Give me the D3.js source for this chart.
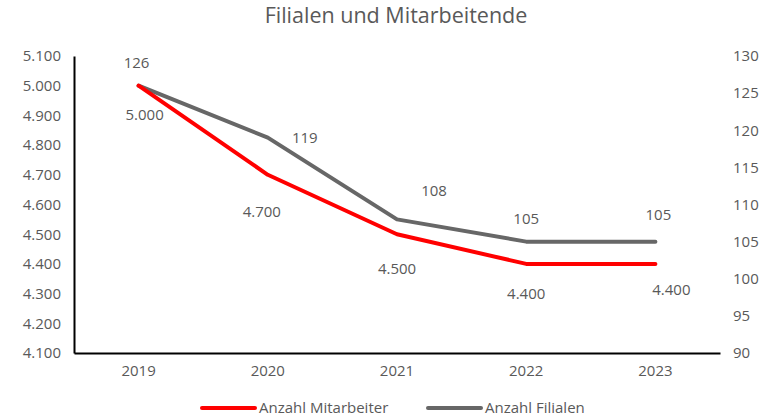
<!DOCTYPE html>
<html>
<head>
<meta charset="utf-8">
<script src="https://cdn.jsdelivr.net/npm/d3@7"></script>
<style>
  body { margin: 0; background: #fff; }
  svg text { font-family: "Open Sans", "DejaVu Sans", sans-serif; fill: #595959; }
</style>
</head>
<body>
<svg id="graphique" width="772" height="418"></svg>
<script>
var jahre = ["2019", "2020", "2021", "2022", "2023"];
var mitarbeiter = [5000, 4700, 4500, 4400, 4400];
var filialen = [126, 119, 108, 105, 105];
var ticksLinks = [4100, 4200, 4300, 4400, 4500, 4600, 4700, 4800, 4900, 5000, 5100];
var ticksRechts = [90, 95, 100, 105, 110, 115, 120, 125, 130];

// label offsets (px) so the numbers sit like in the original
var offFilialen = [[-2, -23], [37, 0], [37, -29], [0, -23], [3, -27]];
var offMitarbeiter = [[6, 29], [-6, 37], [0, 35], [0, 30], [16, 26]];

var ROT = "#ff0000";
var GRAU = "#676767";

var svg = d3.select("#graphique");
var MARGINS = { top: 56, right: 52, bottom: 65, left: 74 };
var WIDTH = 772, HEIGHT = 418;

var xScale = d3.scaleBand().domain(jahre).range([MARGINS.left, WIDTH - MARGINS.right]);
var yLinks = d3.scaleLinear().domain([4100, 5100]).range([HEIGHT - MARGINS.bottom, MARGINS.top]);
var yRechts = d3.scaleLinear().domain([90, 130]).range([HEIGHT - MARGINS.bottom, MARGINS.top]);
var fmt = d3.formatLocale({ decimal: ",", thousands: ".", grouping: [3], currency: ["", "€"] }).format(",");

// titel
svg.append("text")
  .attr("x", 396).attr("y", 23)
  .attr("text-anchor", "middle")
  .attr("font-size", 21.5)
  .text("Filialen und Mitarbeitende");

// achsen
var axLinks = svg.append("g")
  .attr("transform", "translate(" + MARGINS.left + ",0)")
  .call(d3.axisLeft(yLinks).tickValues(ticksLinks).tickFormat(fmt).tickSize(0).tickPadding(13));
axLinks.select(".domain").attr("stroke", "#000").attr("stroke-width", 2);

var axRechts = svg.append("g")
  .attr("transform", "translate(" + (WIDTH - MARGINS.right) + ",0)")
  .call(d3.axisRight(yRechts).tickValues(ticksRechts).tickSize(0).tickPadding(13));
axRechts.select(".domain").remove();

var axUnten = svg.append("g")
  .attr("transform", "translate(0," + (HEIGHT - MARGINS.bottom) + ")")
  .call(d3.axisBottom(xScale).tickSize(0).tickPadding(12).tickSizeOuter(0));
axUnten.select(".domain").attr("stroke", "#000").attr("stroke-width", 2);

svg.selectAll(".tick text").attr("font-size", 15).attr("fill", "#595959")
  .style("font-family", "'Open Sans', sans-serif");

function cx(d, i) { return xScale(jahre[i]) + xScale.bandwidth() / 2; }

// linien
var lineF = d3.line().x(cx).y(function(d){ return yRechts(d); });
var lineM = d3.line().x(cx).y(function(d){ return yLinks(d); });

svg.append("path").attr("d", lineF(filialen))
  .attr("stroke", GRAU).attr("stroke-width", 4).attr("fill", "none")
  .attr("stroke-linecap", "round").attr("stroke-linejoin", "round");
svg.append("path").attr("d", lineM(mitarbeiter))
  .attr("stroke", ROT).attr("stroke-width", 4).attr("fill", "none")
  .attr("stroke-linecap", "round").attr("stroke-linejoin", "round");

// datenbeschriftungen
svg.selectAll(".lblF").data(filialen).enter().append("text")
  .attr("x", function(d, i){ return cx(d, i) + offFilialen[i][0]; })
  .attr("y", function(d, i){ return yRechts(d) + offFilialen[i][1]; })
  .attr("dy", "0.35em").attr("text-anchor", "middle").attr("font-size", 15)
  .text(function(d){ return d; });

svg.selectAll(".lblM").data(mitarbeiter).enter().append("text")
  .attr("x", function(d, i){ return cx(d, i) + offMitarbeiter[i][0]; })
  .attr("y", function(d, i){ return yLinks(d) + offMitarbeiter[i][1]; })
  .attr("dy", "0.35em").attr("text-anchor", "middle").attr("font-size", 15)
  .text(function(d){ return fmt(d); });

// legende
var legende = [{ name: "Anzahl Mitarbeiter", farbe: ROT, x: 202 }, { name: "Anzahl Filialen", farbe: GRAU, x: 428 }];
var lg = svg.selectAll(".leg").data(legende).enter().append("g");
lg.append("line")
  .attr("x1", function(d){ return d.x; }).attr("x2", function(d){ return d.x + 53; })
  .attr("y1", 408).attr("y2", 408)
  .attr("stroke", function(d){ return d.farbe; }).attr("stroke-width", 4)
  .attr("stroke-linecap", "round");
lg.append("text")
  .attr("x", function(d){ return d.x + 57; }).attr("y", 408).attr("dy", "0.35em")
  .attr("font-size", 15)
  .text(function(d){ return d.name; });
</script>
</body>
</html>
